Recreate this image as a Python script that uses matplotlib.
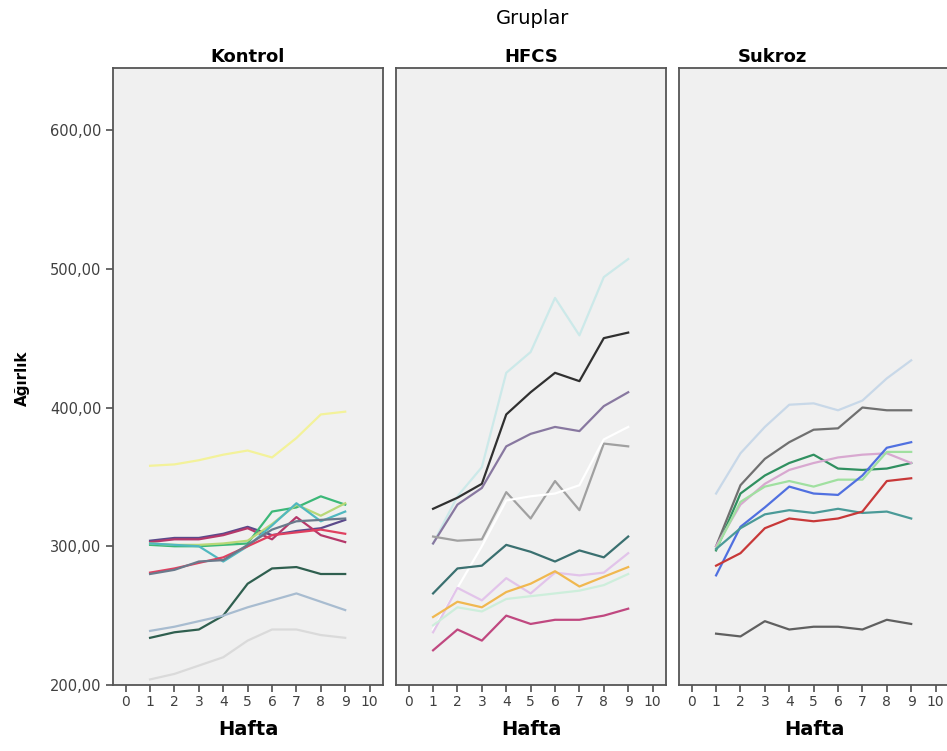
import matplotlib.pyplot as plt

# weeks 1..9, one line per animal in each group
weeks = [1, 2, 3, 4, 5, 6, 7, 8, 9]
groups = ["Kontrol", "HFCS", "Sukroz"]

kontrol = [
    [358, 359, 362, 366, 369, 364, 378, 395, 397],
    [304, 306, 306, 309, 314, 308, 311, 313, 319],
    [303, 305, 305, 308, 313, 305, 321, 308, 303],
    [301, 300, 300, 301, 302, 325, 328, 336, 330],
    [302, 301, 301, 302, 304, 316, 330, 322, 331],
    [302, 301, 300, 289, 300, 315, 331, 318, 325],
    [281, 284, 288, 292, 300, 308, 310, 312, 309],
    [280, 283, 289, 290, 301, 312, 318, 319, 320],
    [234, 238, 240, 250, 273, 284, 285, 280, 280],
    [239, 242, 246, 250, 256, 261, 266, 260, 254],
    [204, 208, 214, 220, 232, 240, 240, 236, 234],
]
hfcs = [
    [302, 336, 357, 425, 440, 479, 452, 494, 507],
    [327, 335, 345, 395, 411, 425, 419, 450, 454],
    [302, 330, 342, 372, 381, 386, 383, 401, 411],
    [307, 304, 305, 339, 320, 347, 326, 374, 372],
    [240, 270, 300, 333, 336, 338, 344, 377, 386],
    [266, 284, 286, 301, 296, 289, 297, 292, 307],
    [238, 270, 261, 277, 266, 281, 279, 281, 295],
    [243, 256, 253, 262, 264, 266, 268, 272, 280],
    [249, 260, 256, 267, 273, 282, 271, 278, 285],
    [225, 240, 232, 250, 244, 247, 247, 250, 255],
]
sukroz = [
    [338, 367, 386, 402, 403, 398, 405, 421, 434],
    [300, 344, 363, 375, 384, 385, 400, 398, 398],
    [297, 338, 351, 360, 366, 356, 355, 356, 360],
    [300, 330, 345, 355, 360, 364, 366, 367, 360],
    [298, 332, 343, 347, 343, 348, 348, 368, 368],
    [279, 314, 328, 343, 338, 337, 351, 371, 375],
    [298, 313, 323, 326, 324, 327, 324, 325, 320],
    [286, 295, 313, 320, 318, 320, 325, 347, 349],
    [237, 235, 246, 240, 242, 242, 240, 247, 244],
]
series = [kontrol, hfcs, sukroz]

colors = [
    ["#f3f29a", "#5b4a8b", "#b5386a", "#3cb878", "#b8d878", "#50b8c0",
     "#e04060", "#6a7a8c", "#2f5f4f", "#a8bcd0", "#dadada"],
    ["#cce9e9", "#303030", "#8878a0", "#a0a0a0", "#ffffff", "#3a7070",
     "#e2c4ea", "#cdeedb", "#f0b850", "#c04880"],
    ["#c8d8e8", "#707070", "#309060", "#d8a8d0", "#a0e0a0", "#5070e0",
     "#4a9a98", "#c83838", "#606060"],
]

W, H = 947, 751
fig = plt.figure(figsize=(W / 100, H / 100), dpi=100)

lefts = [113, 396, 679]
for i, name in enumerate(groups):
    ax = fig.add_axes([lefts[i] / W, 66 / H, 270 / W, 617 / H])
    ax.set_facecolor("#f0f0f0")
    for vals, c in zip(series[i], colors[i]):
        ax.plot(weeks, vals, color=c, lw=1.6)
    ax.set_xlim(-0.52, 10.55)
    ax.set_ylim(200, 644.7)
    ax.set_xticks(range(0, 11))
    ax.tick_params(axis="x", direction="out", length=5, width=1.2,
                   color="#505050", labelsize=10, labelcolor="#404040", pad=2)
    if i == 0:
        ax.set_yticks([200, 300, 400, 500, 600])
        ax.set_yticklabels(["200,00", "300,00", "400,00", "500,00", "600,00"])
        ax.tick_params(axis="y", direction="out", length=5, width=1.2,
                       color="#505050", labelsize=10.5, labelcolor="#404040")
    else:
        ax.set_yticks([])
    for s in ax.spines.values():
        s.set_color("#555555")
        s.set_linewidth(1.3)
    ax.set_xlabel("Hafta", fontsize=14, fontweight="bold", labelpad=8)

fig.text(533 / W, 1 - 18 / H, "Gruplar", ha="center", va="center", fontsize=14)
fig.text(248 / W, 1 - 57 / H, "Kontrol", ha="center", va="center",
         fontsize=13, fontweight="bold")
fig.text(531 / W, 1 - 57 / H, "HFCS", ha="center", va="center",
         fontsize=13, fontweight="bold")
fig.text(772 / W, 1 - 57 / H, "Sukroz", ha="center", va="center",
         fontsize=13, fontweight="bold")
fig.text(22 / W, 1 - 378 / H, "Ağırlık", ha="center", va="center",
         rotation=90, fontsize=11, fontweight="bold")

fig.savefig("out.png", dpi=100)
